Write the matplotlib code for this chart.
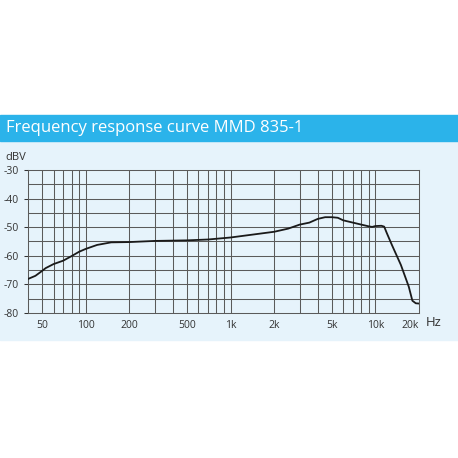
import numpy as np
import matplotlib.pyplot as plt
from matplotlib.patches import Rectangle

# frequency response
freq_hz = [40, 45, 50, 53, 60, 70, 80, 90, 100, 120, 150, 200, 300, 500, 700, 1000,
           2000, 2500, 3000, 3500, 4000, 4500, 5000, 5500, 6000, 7000, 8000, 9000,
           9500, 10000, 11000, 11500, 12000, 13000, 15000, 17000, 18000, 19000, 20000]
level_dbv = [-68.1, -67.0, -65.3, -64.3, -62.9, -61.7, -60.1, -58.6, -57.6, -56.2,
             -55.3, -55.2, -54.8, -54.6, -54.3, -53.6, -51.6, -50.5, -49.1, -48.4,
             -47.1, -46.5, -46.5, -46.7, -47.6, -48.4, -49.1, -49.7, -49.9, -49.6,
             -49.5, -49.8, -52.1, -56.2, -63.2, -70.8, -75.7, -76.6, -76.7]

xtick_vals = [50, 100, 200, 500, 1000, 2000, 5000, 10000, 20000]
xtick_labels = ["50", "100", "200", "500", "1k", "2k", "5k", "10k", "20k"]
ytick_vals = [-30, -40, -50, -60, -70, -80]

W, H = 458, 458
plt.rcParams["font.family"] = ["Open Sans", "DejaVu Sans"]
plt.rcParams["axes.unicode_minus"] = False
fig = plt.figure(figsize=(W / 100, H / 100), dpi=100)
fig.patch.set_facecolor("white")

# background bands
bg = fig.add_axes([0, 0, 1, 1])
bg.set_xlim(0, W)
bg.set_ylim(H, 0)
bg.axis("off")
bg.add_patch(Rectangle((0, 141), W, 199, color="#e6f3fb", zorder=0))
bg.add_patch(Rectangle((0, 115), W, 26, color="#2bb3ea", zorder=1))
bg.text(6, 128.5, "Frequency response curve MMD 835-1", color="white",
        fontsize=12, va="center", ha="left")
bg.text(5, 157.5, "dBV", fontsize=8, color="#333333", va="center", ha="left")
bg.text(426, 323, "Hz", fontsize=9.5, color="#333333", va="center", ha="left")

ax = fig.add_axes([28 / W, 1 - 313 / H, (419 - 28) / W, (313 - 170) / H])
ax.set_facecolor("none")
ax.set_xscale("log")
ax.set_xlim(40, 20000)
ax.set_ylim(-80, -30)

# grid: minor decades and 5 dB steps
minor = [m * 10 ** d for d in range(1, 5) for m in range(1, 10)]
minor = [f for f in minor if 40 < f < 20000]
for f in minor:
    ax.axvline(f, color="#5a5a5a", lw=0.75, zorder=1)
for y in np.arange(-75, -30, 5):
    ax.axhline(y, color="#5a5a5a", lw=0.75, zorder=1)

ax.plot(freq_hz, level_dbv, color="#1a1a1a", lw=1.3, zorder=3)

ax.set_xticks(xtick_vals)
ax.set_xticklabels(xtick_labels)
ax.xaxis.set_minor_locator(plt.NullLocator())
ax.set_yticks(ytick_vals)
ax.tick_params(axis="both", labelsize=7.5, colors="#333333", length=3, width=0.75)
ax.tick_params(axis="x", length=0, pad=5)
ax.get_xticklabels()[-1].set_horizontalalignment("right")
for s in ax.spines.values():
    s.set_color("#5a5a5a")
    s.set_linewidth(0.75)

fig.savefig("out.png", dpi=100)
